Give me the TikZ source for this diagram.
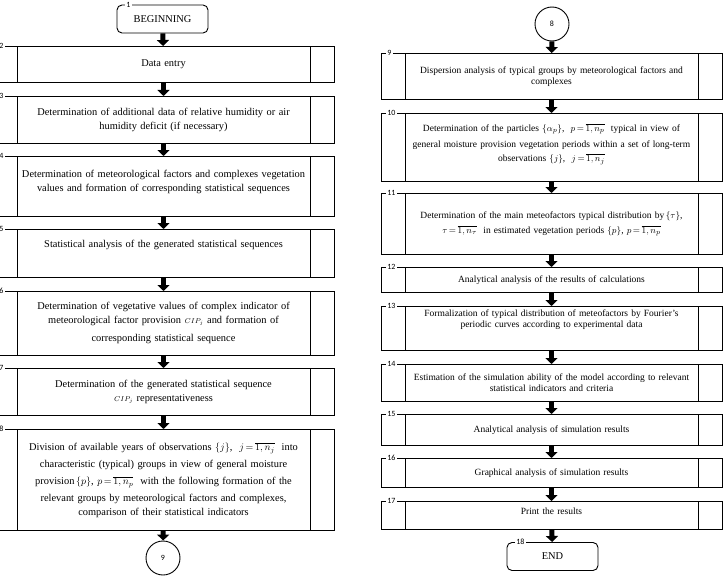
\documentclass[tikz,border=0pt]{standalone}
\usepackage{fontspec}
\setmainfont{Liberation Serif}
\newfontfamily\numfont{Carlito}
\usetikzlibrary{arrows.meta}
\begin{document}
\begin{tikzpicture}[x=1pt, y=-1pt,
    procbox/.style={draw, line width=0.9pt, minimum width=341pt, text width=289pt, align=center, inner sep=0pt, anchor=north,
      path picture={
        \draw[line width=0.9pt] ([xshift=24pt]path picture bounding box.north west) -- ([xshift=24pt]path picture bounding box.south west);
        \draw[line width=0.9pt] ([xshift=-24pt]path picture bounding box.north east) -- ([xshift=-24pt]path picture bounding box.south east);}},
    leftcol/.style={procbox, font=\fontsize{10.4}{14}\selectfont},
    rightcol/.style={procbox, font=\fontsize{9.5}{11}\selectfont},
    termbox/.style={draw, line width=0.9pt, rounded corners=5pt, minimum width=91pt, minimum height=28pt, font=\fontsize{10.4}{11}\selectfont},
    joint/.style={draw, circle, line width=0.9pt, minimum size=34pt, inner sep=0pt, font=\numfont\fontsize{8}{9}\selectfont},
    numtag/.style={fill=white, inner sep=1.5pt, anchor=west, font=\numfont\fontsize{8}{9}\selectfont},
    flow/.style={line width=5pt, -{Triangle[width=12pt,length=6pt]}}]
    \useasboundingbox (0,0) rectangle (726,578);
    \clip (0,0) rectangle (726,578);
    %Left column
    \node[termbox] (start) at (162.5,19) {BEGINNING};
    \node[leftcol, minimum height=36pt] (b2) at (163.5,46) {Data entry};
    \node[leftcol, minimum height=47pt] (b3) at (163.5,96) {Determination of additional data of relative humidity or air\\humidity deficit (if necessary)};
    \node[leftcol, minimum height=60pt] (b4) at (163.5,156) {Determination of meteorological factors and complexes vegetation\\values and formation of corresponding statistical sequences\\[-2pt]\mbox{}};
    \node[leftcol, minimum height=48pt] (b5) at (163.5,229) {Statistical analysis of the generated statistical sequences\\[5pt]\mbox{}};
    \node[leftcol, minimum height=64pt] (b6) at (163.5,291) {Determination of vegetative values of complex indicator of\\meteorological factor provision $\scriptstyle CIP_j$ and formation of\\[4pt]corresponding statistical sequence};
    \node[leftcol, minimum height=47pt] (b7) at (163.5,368) {Determination of the generated statistical sequence\\$\scriptstyle CIP_j$ representativeness};
    \node[leftcol, minimum height=101pt] (b8) at (163.5,429) {Division of available years of observations $\{j\}$,\ \ $j\,{=}\,\overline{1,n_j}$\ \ into\\[3pt]characteristic (typical) groups in view of general moisture\\[3pt]provision$\,\{p\}$, $p\,{=}\,\overline{1,n_p}$\ \ with the following formation of the\\[3pt]relevant groups by meteorological factors and complexes,\\comparison of their statistical indicators};
    \node[joint] (c9) at (163,558) {9};
    %Right column
    \node[joint] (c8) at (552,24) {8};
    \node[rightcol, minimum height=46pt] (b9) at (551.5,53) {Dispersion analysis of typical groups by meteorological factors and\\complexes};
    \node[rightcol, minimum height=68pt] (b10) at (551.5,113) {Determination of the particles $\{\alpha_p\}$,\ \ $p\,{=}\,\overline{1,n_p}$\ \ typical in view of\\[5pt]general moisture provision vegetation periods within a set of long-term\\[3pt]observations $\{j\}$,\ \ $j\,{=}\,\overline{1,n_j}$\\[-2pt]\mbox{}};
    \node[rightcol, minimum height=61pt] (b11) at (551.5,193) {Determination of the main meteofactors typical distribution by$\,\{\tau\}$,\\[4pt]$\tau\,{=}\,\overline{1,n_\tau}$\ \ in estimated vegetation periods $\{p\}$, $p\,{=}\,\overline{1,n_p}$};
    \node[rightcol, minimum height=25pt] (b12) at (551.5,267) {Analytical analysis of the results of calculations};
    \node[rightcol, minimum height=44pt] (b13) at (551.5,306) {Formalization of typical distribution of meteofactors by Fourier's\\periodic curves according to experimental data\\[8pt]\mbox{}};
    \node[rightcol, minimum height=37pt] (b14) at (551.5,364) {Estimation of the simulation ability of the model according to relevant\\statistical indicators and criteria};
    \node[rightcol, minimum height=31pt] (b15) at (551.5,414) {Analytical analysis of simulation results};
    \node[rightcol, minimum height=29pt] (b16) at (551.5,458) {Graphical analysis of simulation results};
    \node[rightcol, minimum height=28pt] (b17) at (551.5,501) {Print the results\\[-3pt]\mbox{}};
    \node[termbox] (end) at (552.5,556.5) {END};
    %Numbers
    \node[numtag] at ([xshift=8pt]start.north west) {1};
    \node[numtag] at ([xshift=5pt]b2.north west) {2};
    \node[numtag] at ([xshift=5pt]b3.north west) {3};
    \node[numtag] at ([xshift=5pt]b4.north west) {4};
    \node[numtag] at ([xshift=5pt]b5.north west) {5};
    \node[numtag] at ([xshift=5pt]b6.north west) {6};
    \node[numtag] at ([xshift=5pt]b7.north west) {7};
    \node[numtag] at ([xshift=5pt]b8.north west) {8};
    \node[numtag] at ([xshift=5pt]b9.north west) {9};
    \node[numtag] at ([xshift=5pt]b10.north west) {10};
    \node[numtag] at ([xshift=5pt]b11.north west) {11};
    \node[numtag] at ([xshift=5pt]b12.north west) {12};
    \node[numtag] at ([xshift=5pt]b13.north west) {13};
    \node[numtag] at ([xshift=5pt]b14.north west) {14};
    \node[numtag] at ([xshift=5pt]b15.north west) {15};
    \node[numtag] at ([xshift=5pt]b16.north west) {16};
    \node[numtag] at ([xshift=5pt]b17.north west) {17};
    \node[numtag] at ([xshift=8pt]end.north west) {18};
    %Arrows
    \draw[flow] (start) -- (b2);
    \draw[flow] (b2) -- (b3);
    \draw[flow] (b3) -- (b4);
    \draw[flow] (b4) -- (b5);
    \draw[flow] (b5) -- (b6);
    \draw[flow] (b6) -- (b7);
    \draw[flow] (b7) -- (b8);
    \draw[flow] (b8) -- (c9);
    \draw[flow] (c8) -- (b9);
    \draw[flow] (b9) -- (b10);
    \draw[flow] (b10) -- (b11);
    \draw[flow] (b11) -- (b12);
    \draw[flow] (b12) -- (b13);
    \draw[flow] (b13) -- (b14);
    \draw[flow] (b14) -- (b15);
    \draw[flow] (b15) -- (b16);
    \draw[flow] (b16) -- (b17);
    \draw[flow] (b17) -- (end);
\end{tikzpicture}
\end{document}
